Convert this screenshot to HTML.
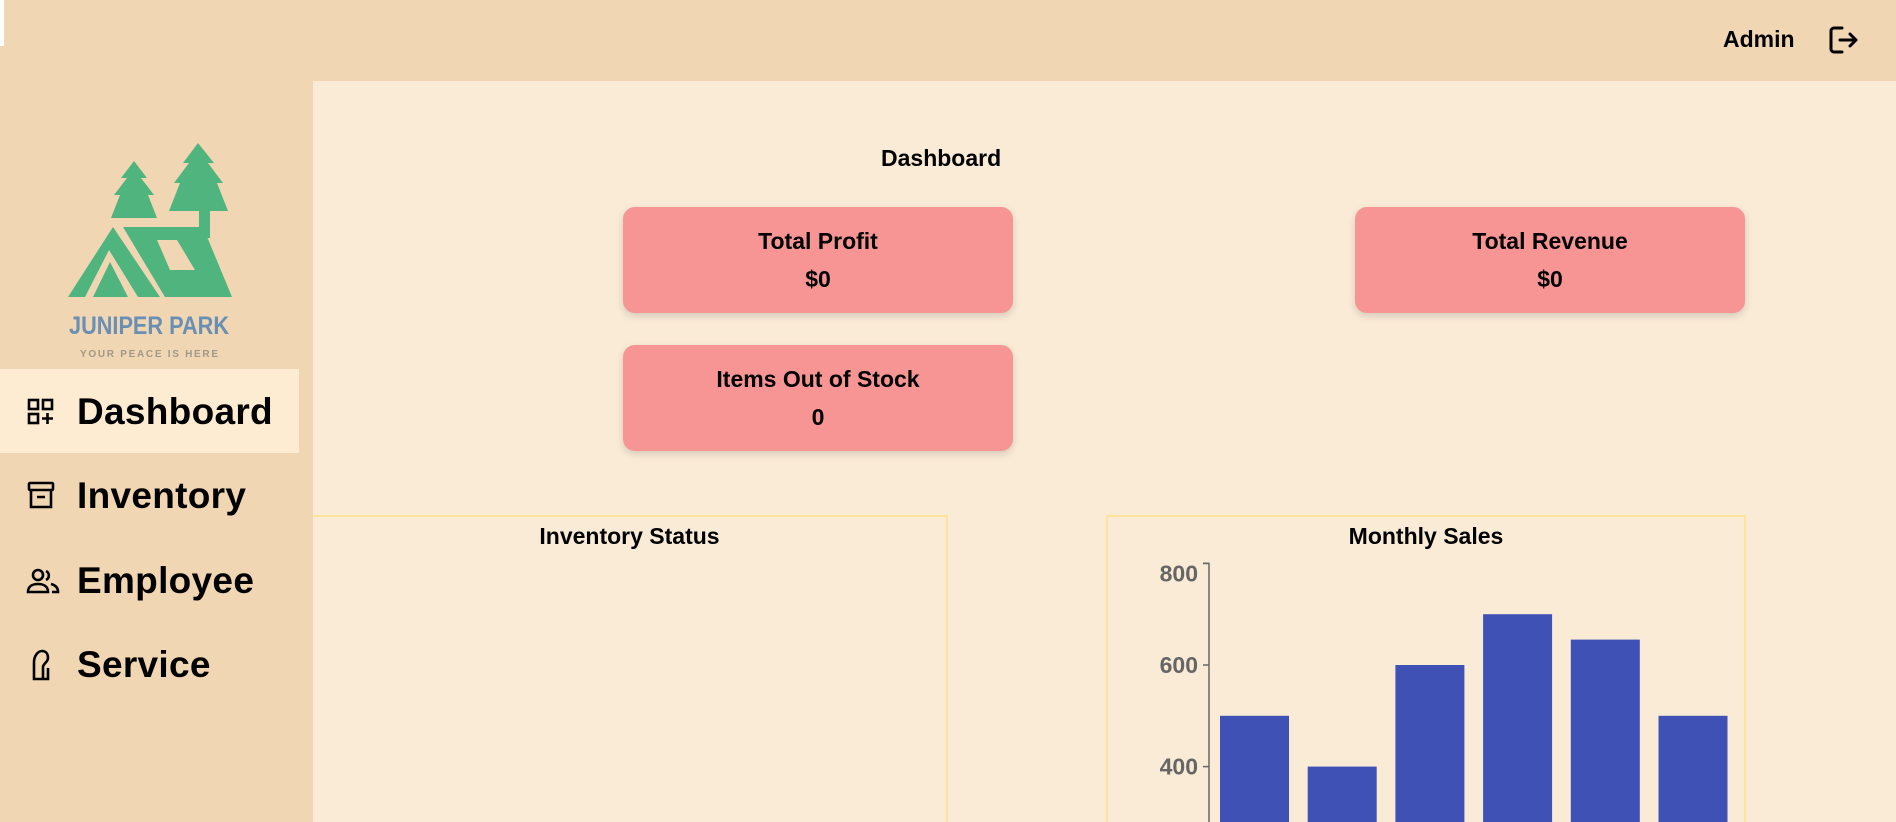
<!DOCTYPE html>
<html><head><meta charset="utf-8"><style>
*{box-sizing:border-box;margin:0;padding:0}
html,body{width:1896px;height:822px;overflow:hidden}
body{background:#faebd7;font-family:"Liberation Sans",sans-serif;position:relative;color:#000}
.abs{position:absolute}
#header{left:0;top:0;width:1896px;height:81px;background:#f0d6b2}
#sidebar{left:0;top:81px;width:313px;height:741px;background:#f0d6b2}
.nav{position:absolute;left:0;width:299px;height:84px}
.nav span{position:absolute;left:77px;font-size:37px;font-weight:bold;letter-spacing:0.3px}
.nav svg{position:absolute;left:26px}
.card{position:absolute;width:390px;height:106px;background:#f79494;border-radius:12px;box-shadow:0 3px 8px rgba(0,0,0,0.15);text-align:center;font-size:23px;font-weight:bold}
.card .t{position:absolute;top:21px;width:100%}
.card .v{position:absolute;top:59px;width:100%}
.box{position:absolute;border:2px solid #fde49a;border-bottom:none;height:307px}
.box .title{position:absolute;top:6px;width:100%;text-align:center;font-size:23px;font-weight:bold}
</style></head><body>
<div class="abs" id="header"></div>
<div class="abs" style="left:0;top:0;width:4px;height:46px;background:#fff"></div>
<div class="abs" style="left:1723px;top:26px;font-size:23px;font-weight:bold">Admin</div>
<svg class="abs" style="left:1827px;top:24px" width="32" height="32" viewBox="0 0 32 32"><path d="M15 4H7a3 3 0 0 0-3 3v18a3 3 0 0 0 3 3h8" fill="none" stroke="#000" stroke-width="3" stroke-linecap="round"/><path d="M13 16h16M23 10l6 6-6 6" fill="none" stroke="#000" stroke-width="3" stroke-linecap="round" stroke-linejoin="round"/></svg>

<div class="abs" id="sidebar"></div>
<svg class="abs" style="left:0;top:0" width="313" height="370" viewBox="0 0 313 370">
<g fill="#4fb47e">
<polygon points="134,161 121,178 127,178 114,195 120,195 111,218 157,218 148,195 154,195 141,178 147,178"/>
<polygon points="198,143 183,163 189,163 174,183 180,183 169,211 228,211 217,183 223,183 208,163 214,163"/>
<rect x="199" y="208" width="11" height="30"/>
<path d="M113,227 L68,297 L160,297 Z M109,250 L85,297 L138,297 Z" fill-rule="evenodd"/>
<polygon points="110,262 93,297 128,297"/>
<path d="M123,227 L203,227 L232,297 L165,297 Z M157,240 L177,240 L195,270 L170,270 Z" fill-rule="evenodd"/>
</g>
<text x="149" y="334" text-anchor="middle" font-family="Liberation Sans,sans-serif" font-size="25" font-weight="bold" fill="#6a8fb5" textLength="160" lengthAdjust="spacingAndGlyphs">JUNIPER PARK</text>
<text x="149" y="357" text-anchor="middle" font-family="Liberation Sans,sans-serif" font-size="10" font-weight="bold" fill="#a09888" textLength="138" lengthAdjust="spacing">YOUR PEACE IS HERE</text>
</svg>

<div class="nav" style="top:369px;background:#fdebd2">
<svg style="top:28px" width="30" height="30" viewBox="0 0 30 30"><g fill="none" stroke="#000" stroke-width="2.6"><rect x="3" y="3" width="9" height="9"/><rect x="17" y="3" width="9" height="9"/><rect x="3" y="17" width="9" height="9"/><path d="M21.5 16v11M16 21.5h11"/></g></svg>
<span style="top:22px">Dashboard</span></div>
<div class="nav" style="top:453px">
<svg style="top:27px" width="30" height="32" viewBox="0 0 30 32"><g fill="none" stroke="#000" stroke-width="2.6"><rect x="3" y="3" width="24" height="7" rx="1"/><path d="M5 10v17h20V10M11 17h8"/></g></svg>
<span style="top:22px">Inventory</span></div>
<div class="nav" style="top:538px">
<svg style="top:30px" width="34" height="26" viewBox="0 0 34 26"><g fill="none" stroke="#000" stroke-width="2.6"><circle cx="12" cy="7" r="5"/><path d="M2 24c0-6 5-8 10-8s10 2 10 8z"/><path d="M20 3a5 5 0 0 1 0 9M25 16c4 1 7 3 7 8h-6"/></g></svg>
<span style="top:22px">Employee</span></div>
<div class="nav" style="top:622px">
<svg style="top:26px" width="30" height="34" viewBox="0 0 30 34"><g fill="none" stroke="#000" stroke-width="2.6"><path d="M8 31V14c0-6 4-11 8-11s6 3 6 7-5 6-5 9v12zM8 31h14V20"/></g></svg>
<span style="top:22px">Service</span></div>

<div class="abs" style="left:881px;top:145px;font-size:23px;font-weight:bold">Dashboard</div>

<div class="card" style="left:623px;top:207px"><div class="t">Total Profit</div><div class="v">$0</div></div>
<div class="card" style="left:1355px;top:207px"><div class="t">Total Revenue</div><div class="v">$0</div></div>
<div class="card" style="left:623px;top:345px"><div class="t">Items Out of Stock</div><div class="v">0</div></div>

<div class="box" style="left:313px;top:515px;width:635px;border-left:none"><div class="title">Inventory Status</div></div>
<div class="box" style="left:1106px;top:515px;width:640px"><div class="title">Monthly Sales</div></div>

<svg class="abs" style="left:0;top:0" width="1896" height="822" id="chart"></svg>
<script>
const months = ["Jan","Feb","Mar","Apr","May","Jun"];
const sales = [500,400,600,700,650,500];
const ticks = [400,600,800];
const svg = document.getElementById('chart');
const NS = 'http://www.w3.org/2000/svg';
const axisX = 1209, bandStart = 1209, bandStep = 87.7, barW = 69, barOff = 11;
function y(v){ return 665 - (v - 600) * 101.6 / 200; }
function x(i){ return bandStart + barOff + i * bandStep; }
const axis = document.createElementNS(NS,'path');
axis.setAttribute('d', `M${axisX-6},${y(800)}H${axisX}V830`);
axis.setAttribute('stroke','#666'); axis.setAttribute('stroke-width','1.5'); axis.setAttribute('fill','none');


svg.appendChild(axis);
ticks.forEach(t=>{
  const l = document.createElementNS(NS,'line');
  l.setAttribute('x1',axisX-6); l.setAttribute('x2',axisX); l.setAttribute('y1',y(t)); l.setAttribute('y2',y(t));
  l.setAttribute('stroke','#666'); l.setAttribute('stroke-width','1.5');
  
  
  svg.appendChild(l);
  const tx = document.createElementNS(NS,'text');
  tx.setAttribute('x',axisX-11); tx.setAttribute('y',y(t)+ (t===800 ? 18 : 8));
  tx.setAttribute('text-anchor','end'); tx.setAttribute('font-size','23'); tx.setAttribute('font-weight','bold');
  tx.setAttribute('fill','#666'); tx.setAttribute('font-family','Liberation Sans, sans-serif');
  tx.textContent = t;
  
  
  svg.appendChild(tx);
});
sales.forEach((v,i)=>{
  const r = document.createElementNS(NS,'rect');
  r.setAttribute('x',x(i)); r.setAttribute('width',barW);
  r.setAttribute('y',y(v)); r.setAttribute('height',830-y(v));
  r.setAttribute('fill','#3f51b5');
  
  
  svg.appendChild(r);
});
</script>
</body></html>
